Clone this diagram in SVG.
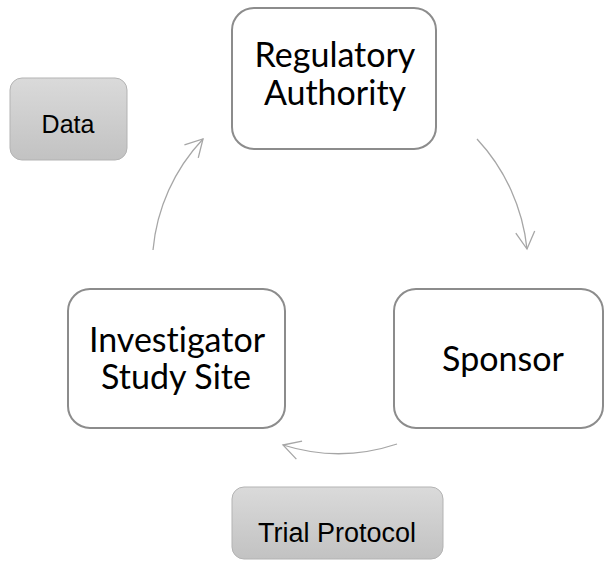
<svg xmlns="http://www.w3.org/2000/svg" width="604" height="561" viewBox="0 0 604 561">
<style>
.node{fill:#ffffff;stroke:#8c8c8c;stroke-width:2}
.note{stroke:#b3b3b3;stroke-width:1;fill:url(#g)}
.nt{font-family:Lato,"Open Sans",sans-serif;font-size:34px;fill:#000;text-anchor:middle;font-variant-ligatures:none}
.lt{font-family:"Liberation Sans",Arial,sans-serif;font-size:25px;fill:#000;text-anchor:middle}
.conn{fill:none;stroke:#a6a6a6;stroke-width:1.3;marker-end:url(#ah)}
</style>
<defs>
<linearGradient id="g" x1="0" y1="0" x2="0" y2="1">
<stop offset="0" stop-color="#dadada"/>
<stop offset="1" stop-color="#c2c2c2"/>
</linearGradient>
<marker id="ah" markerUnits="userSpaceOnUse" viewBox="-20 -12 24 24" markerWidth="24" markerHeight="24" refX="0" refY="0" orient="auto">
<path d="M-17,-9.5 L0,0 L-17,9.5" fill="none" stroke="#a6a6a6" stroke-width="1.3"/>
</marker>
</defs>
<g id="connectors">
<path class="conn" d="M153,250 A186,186 0 0 1 203,139"/>
<path class="conn" d="M477,139 A190,190 0 0 1 527,249"/>
<path class="conn" d="M397,444 A185,185 0 0 1 283,445"/>
</g>
<g id="regulatory">
<rect class="node" x="232" y="8" width="204" height="141" rx="22"/>
<text class="nt" x="335" y="67">Regulatory</text>
<text class="nt" x="335" y="105">Authority</text>
</g>
<g id="sponsor">
<rect class="node" x="394" y="289" width="209" height="139" rx="22"/>
<text class="nt" x="503" y="371">Sponsor</text>
</g>
<g id="investigator">
<rect class="node" x="68" y="289" width="217" height="139" rx="22"/>
<text class="nt" x="177" y="352">Investigator</text>
<text class="nt" x="176" y="389">Study Site</text>
</g>
<g id="data">
<rect class="note" x="10" y="78" width="117" height="82" rx="12"/>
<text class="lt" x="68" y="133">Data</text>
</g>
<g id="trial">
<rect class="note" x="232" y="487" width="211" height="72" rx="12"/>
<text class="lt" x="337" y="542" style="font-size:27px">Trial Protocol</text>
</g>
</svg>
